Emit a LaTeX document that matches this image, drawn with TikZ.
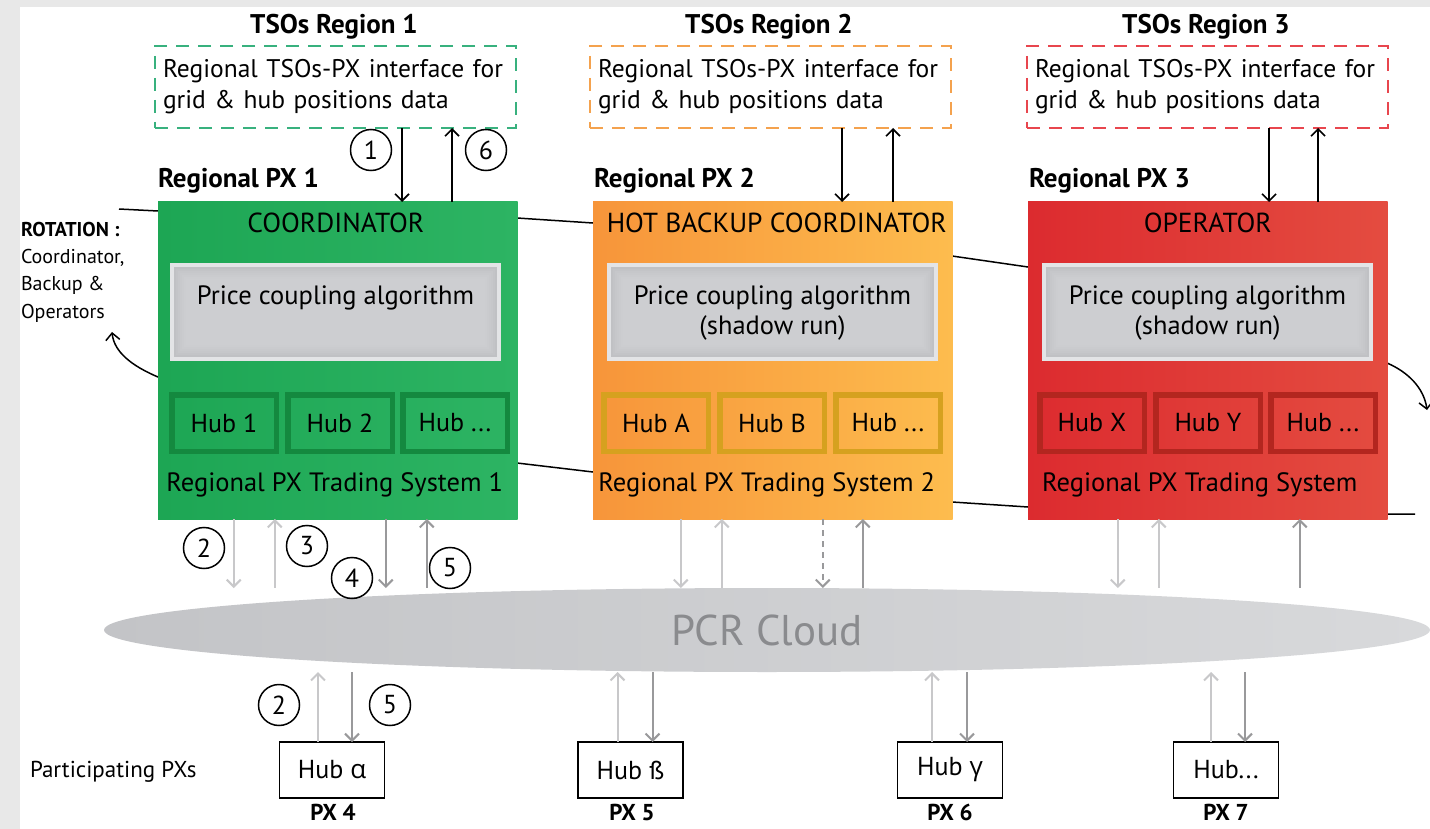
\documentclass[tikz,border=0pt]{standalone}
\usepackage{fontspec}
\setmainfont{PT Sans}
\newfontfamily\greekfont{Open Sans}
\usetikzlibrary{arrows.meta,calc,shapes.geometric}

\definecolor{frameGray}{HTML}{E8E8E8}
\definecolor{tsoGreen}{HTML}{38B17E}
\definecolor{tsoOrange}{HTML}{F4A24E}
\definecolor{tsoRed}{HTML}{E8464E}
\definecolor{gL}{HTML}{1DA654}
\definecolor{gR}{HTML}{2DB463}
\definecolor{gHub}{HTML}{14893F}
\definecolor{oL}{HTML}{F7953A}
\definecolor{oR}{HTML}{FDBC4E}
\definecolor{oHub}{HTML}{D6A11F}
\definecolor{rL}{HTML}{DC2B2F}
\definecolor{rR}{HTML}{E44C40}
\definecolor{rHub}{HTML}{B3261F}
\definecolor{algRim}{HTML}{E3E4E6}
\definecolor{arrLight}{HTML}{C8C8CA}
\definecolor{arrMid}{HTML}{99999B}
\definecolor{cloudL}{HTML}{C3C4C7}
\definecolor{cloudR}{HTML}{D8D9DB}
\definecolor{cloudTxt}{HTML}{8A8B8E}

\pgfdeclarelayer{back}
\pgfdeclarelayer{mid}
\pgfsetlayers{back,mid,main}

\tikzset{
  every node/.style={inner sep=0pt, outer sep=0pt},
  txt/.style={font=\fontsize{#1}{#1}\selectfont},
  btxt/.style={font=\fontsize{#1}{#1}\selectfont\bfseries},
  tsobox/.style={draw=#1, line width=1.8pt, dash pattern=on 13pt off 9pt,
    minimum width=361, minimum height=82, anchor=north west,
    align=left, text width=345, font=\fontsize{25.5}{31}\selectfont},
  pxbox/.style 2 args={left color=#1, right color=#2, minimum width=359.5,
    minimum height=317, anchor=north west},
  algbox/.style={fill=algRim, minimum width=331, minimum height=98, anchor=north west},
  hubcell/.style={draw=#1, line width=5.5pt, minimum width=104.5, minimum height=56.5, txt=26},
  pxhub/.style={draw, line width=1.5pt, minimum width=105, minimum height=56, txt=26},
  num/.style={circle, draw, line width=1.5pt, minimum size=41, txt=26},
  blk/.style={line width=1.6pt},
  lt/.style={draw=arrLight, line width=2pt},
  md/.style={draw=arrMid, line width=2pt},
  loopline/.style={line width=1.5pt},
}

% inset shading of an algorithm panel: darker near the rim, lighter towards the middle
\newcommand\algpanel[1]{%
  \foreach \d/\c in {4/C0C1C4,6/C3C4C7,8/C6C7CA,10/C8C9CC,12/CACBCE,14/CCCDD0,16/CDCED1}{%
    \definecolor{algStep}{HTML}{\c}%
    \fill[algStep] ([shift={(\d,\d)}]#1.north west) rectangle ([shift={(-\d,-\d)}]#1.south east);
  }%
}

\begin{document}
\begin{tikzpicture}[x=1pt, y=-1pt, >={Straight Barb[length=7pt,width=14pt]}]
\useasboundingbox (0,0) rectangle (1430,829);
\begin{pgfonlayer}{back}
  \fill[frameGray] (0,0) rectangle (1430,829);
  \fill[white] (20,7) rectangle (1430,829);
\end{pgfonlayer}

% ---------- TSO regions ----------
\node[btxt=27] (tsoT1) at (334,27) {TSOs Region 1};
\node[btxt=27] (tsoT2) at (769,27) {TSOs Region 2};
\node[btxt=27] (tsoT3) at (1206,27) {TSOs Region 3};

\node[tsobox=tsoGreen]  (tso1) at (155,46)  {Regional TSOs-PX interface for\\grid \& hub positions data};
\node[tsobox=tsoOrange] (tso2) at (590,46)  {Regional TSOs-PX interface for\\grid \& hub positions data};
\node[tsobox=tsoRed]    (tso3) at (1027,46) {Regional TSOs-PX interface for\\grid \& hub positions data};

% ---------- regional power exchanges ----------
\node[btxt=27, anchor=west] (pxT1) at (158,181) {Regional PX 1};
\node[btxt=27, anchor=west] (pxT2) at (594,181) {Regional PX 2};
\node[btxt=27, anchor=west] (pxT3) at (1029,181) {Regional PX 3};

\node[pxbox={gL}{gR}] (px1) at (158,202) {};
\node[pxbox={oL}{oR}] (px2) at (593,202) {};
\node[pxbox={rL}{rR}] (px3) at (1028,202) {};

\node[txt=27.5] (role1) at ($(px1.north)+(-2,21)$) {COORDINATOR};
\node[txt=27.5] (role2) at ($(px2.north)+(4,21)$) {HOT BACKUP COORDINATOR};
\node[txt=27.5] (role3) at ($(px3.north)+(0,21)$) {OPERATOR};

\node[algbox] (alg1) at ($(px1.north west)+(12,61)$) {};
\node[algbox] (alg2) at ($(px2.north west)+(14,61)$) {};
\node[algbox] (alg3) at ($(px3.north west)+(14,61)$) {};
\algpanel{alg1}
\algpanel{alg2}
\algpanel{alg3}
\node[txt=26.5] (alg1a) at ($(alg1.north)+(0,35)$) {Price coupling algorithm};
\node[txt=26.5] (alg2a) at ($(alg2.north)+(0,35)$) {Price coupling algorithm};
\node[txt=26.5] (alg2b) at ($(alg2.north)+(0,65)$) {(shadow run)};
\node[txt=26.5] (alg3a) at ($(alg3.north)+(0,35)$) {Price coupling algorithm};
\node[txt=26.5] (alg3b) at ($(alg3.north)+(0,65)$) {(shadow run)};

\node[hubcell=gHub] (h11) at ($(px1.north west)+(66,221)$)  {Hub 1};
\node[hubcell=gHub] (h12) at ($(px1.north west)+(182,221)$) {Hub 2};
\node[hubcell=gHub] (h13) at ($(px1.north west)+(297,221)$) {Hub ...};
\node[hubcell=oHub] (h21) at ($(px2.north west)+(63,221)$)  {Hub A};
\node[hubcell=oHub] (h22) at ($(px2.north west)+(179,221)$) {Hub B};
\node[hubcell=oHub] (h23) at ($(px2.north west)+(295,221)$) {Hub ...};
\node[hubcell=rHub] (h31) at ($(px3.north west)+(64,221)$)  {Hub X};
\node[hubcell=rHub] (h32) at ($(px3.north west)+(180,221)$) {Hub Y};
\node[hubcell=rHub] (h33) at ($(px3.north west)+(295,221)$) {Hub ...};

\node[txt=26.5] (ts1) at ($(px1.north)+(-3,283)$) {Regional PX Trading System 1};
\node[txt=26.5] (ts2) at ($(px2.north)+(-6,283)$) {Regional PX Trading System 2};
\node[txt=26.5] (ts3) at ($(px3.north)+(-8,283)$) {Regional PX Trading System};

% ---------- rotation of roles ----------
\node[anchor=north west, align=left, font=\fontsize{20}{27.3}\selectfont] (rot) at (21,222)
  {\textbf{ROTATION :}\\Coordinator,\\Backup \&\\Operators};
\coordinate (rotTopIn)  at (119,209);
\coordinate (rotTopOut) at (1427,410);
\coordinate (rotBotIn)  at (1415,514);
\coordinate (rotBotOut) at (112,332);
\begin{pgfonlayer}{mid}
  \draw[loopline,->] (rotTopIn) -- (158,211) -- (517,218) -- (593,223) -- (952,256)
    -- (1028,267) -- (1387,363) .. controls (1408,372) and (1424,388) .. (rotTopOut);
  \draw[loopline,->] (rotBotIn) -- (1388,514) -- (1028,507) -- (952,502) -- (593,472)
    -- (517,463) -- (158,377) .. controls (132,366) and (114,352) .. (rotBotOut);
\end{pgfonlayer}

% ---------- TSO <-> PX exchanges ----------
\draw[blk,->] ([xshift=66.5]tso1.south) -- ([xshift=66.5]tso1.south |- px1.north);
\draw[blk,<-] ([xshift=116.5]tso1.south) -- ([xshift=116.5]tso1.south |- px1.north);
\draw[blk,->] ([xshift=71.5]tso2.south) -- ([xshift=71.5]tso2.south |- px2.north);
\draw[blk,<-] ([xshift=122.5]tso2.south) -- ([xshift=122.5]tso2.south |- px2.north);
\draw[blk,->] ([xshift=61.5]tso3.south) -- ([xshift=61.5]tso3.south |- px3.north);
\draw[blk,<-] ([xshift=110.5]tso3.south) -- ([xshift=110.5]tso3.south |- px3.north);
\node[num] (n1) at (371,150) {1};
\node[num] (n6) at (486,150) {6};

% ---------- PCR cloud ----------
\node[ellipse, left color=cloudL, right color=cloudR, minimum width=1326,
  minimum height=84] (cloud) at (767,630) {};
\node[txt=43, text=cloudTxt] (cloudT) at (cloud.center) {PCR Cloud};

% PX 1 <-> cloud
\draw[lt,->] ([xshift=-104]px1.south) -- ++(0,69);
\draw[lt,<-] ([xshift=-63]px1.south) -- ++(0,69);
\draw[md,->] ([xshift=48]px1.south) -- ++(0,69);
\draw[md,<-] ([xshift=89]px1.south) -- ++(0,69);
\node[num] (n2) at (204,548) {2};
\node[num] (n3) at (307,546) {3};
\node[num] (n4) at (352,578) {4};
\node[num] (n5) at (450,568) {5};
% PX 2 <-> cloud
\draw[lt,->] ([xshift=-92]px2.south) -- ++(0,69);
\draw[lt,<-] ([xshift=-51]px2.south) -- ++(0,69);
\draw[md,->,dash pattern=on 6pt off 5pt] ([xshift=50]px2.south) -- ++(0,69);
\draw[md,<-] ([xshift=90]px2.south) -- ++(0,69);
% PX 3 <-> cloud
\draw[lt,->] ([xshift=-90]px3.south) -- ++(0,69);
\draw[lt,<-] ([xshift=-49]px3.south) -- ++(0,69);
\draw[md,<-] ([xshift=92]px3.south) -- ++(0,69);

% ---------- participating PXs ----------
\node[txt=23, anchor=west] (part) at (30,772) {Participating PXs};
\node[pxhub] (ha) at (332,770)  {Hub {\greekfont α}};
\node[pxhub] (hb) at (630.5,770) {Hub ß};
\node[pxhub] (hg) at (950,770)  {Hub {\greekfont γ}};
\node[pxhub] (hd) at (1226,770) {Hub...};
\node[btxt=23, anchor=north] (px4) at (333,804) {PX 4};
\node[btxt=23, anchor=north] (px5) at (632,804) {PX 5};
\node[btxt=23, anchor=north] (px6) at (950,804) {PX 6};
\node[btxt=23, anchor=north] (px7) at (1226,804) {PX 7};

\draw[lt,->] ([xshift=-14]ha.north) -- ++(0,-70);
\draw[md,<-] ([xshift=20]ha.north) -- ++(0,-70);
\draw[lt,->] ([xshift=-13]hb.north) -- ++(0,-70);
\draw[md,<-] ([xshift=22]hb.north) -- ++(0,-70);
\draw[lt,->] ([xshift=-18]hg.north) -- ++(0,-70);
\draw[md,<-] ([xshift=17]hg.north) -- ++(0,-70);
\draw[lt,->] ([xshift=-15]hd.north) -- ++(0,-70);
\draw[md,<-] ([xshift=19]hd.north) -- ++(0,-70);
\node[num] (m2) at (279,705) {2};
\node[num] (m5) at (390,705) {5};
\end{tikzpicture}
\end{document}
